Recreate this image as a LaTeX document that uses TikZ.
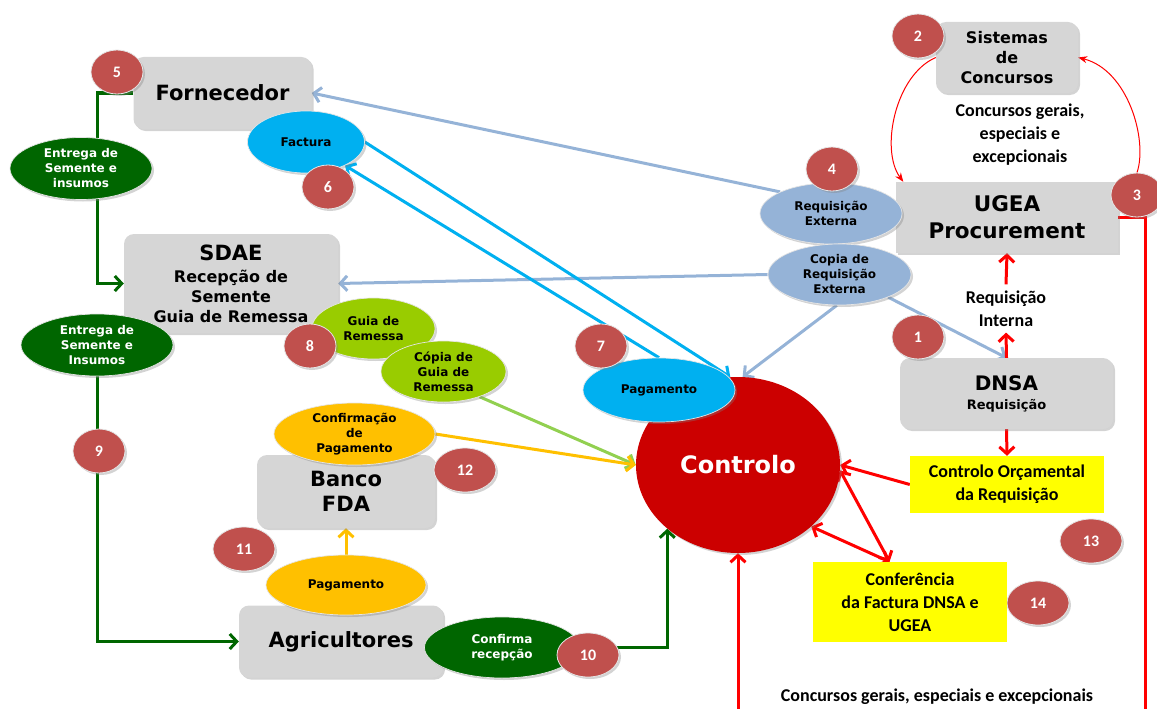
\documentclass[tikz,border=0pt]{standalone}
\usepackage{fontspec}
\setmainfont{DejaVu Sans}
\newfontfamily\calib{Carlito}
\usetikzlibrary{shapes.geometric,arrows.meta,shadows}
\pgfdeclarelayer{bg}
\pgfsetlayers{bg,main}
\definecolor{boxgray}{HTML}{D6D6D6}
\definecolor{badgered}{HTML}{C0504D}
\definecolor{dkgreen}{HTML}{006600}
\definecolor{cyanb}{HTML}{00B0F0}
\definecolor{steelb}{HTML}{95B3D7}
\definecolor{limeg}{HTML}{99CC00}
\definecolor{lightg}{HTML}{92D050}
\definecolor{orangey}{HTML}{FFC000}
\definecolor{ctrlred}{HTML}{CC0000}
\definecolor{brightred}{HTML}{FF0000}
\definecolor{yellowb}{HTML}{FFFF00}
\begin{document}
\begin{tikzpicture}[x=1pt,y=-1pt,
  shad/.style={drop shadow={opacity=0.35,shadow xshift=2pt,shadow yshift=-2pt}},
  graybox/.style={fill=boxgray, rounded corners=10pt, inner sep=0pt, align=center, shad},
  oval/.style={ellipse, inner sep=-9pt, align=center, draw=white!80!gray, line width=0.7pt, font=\bfseries\fontsize{12}{15}\selectfont, shad},
  badge/.style={ellipse, fill=badgered, draw=white!80!gray, line width=0.8pt, minimum width=52pt, minimum height=44pt, inner sep=0pt, text=white, font=\calib\bfseries\fontsize{16}{16}\selectfont, shad},
  wbadge/.style={badge, minimum width=62pt},
  ybox/.style={fill=yellowb, inner sep=0pt, align=center, font=\calib\bfseries\fontsize{18}{23}\selectfont},
  caltext/.style={align=center, font=\calib\bfseries\fontsize{18}{23}\selectfont},
  chev/.tip={Straight Barb[length=7pt,width=15pt]},
  bline/.style={draw=steelb, line width=3pt, -chev},
  cline/.style={draw=cyanb, line width=3pt, -chev},
  gline/.style={draw=dkgreen, line width=3pt, -chev},
  lgline/.style={draw=lightg, line width=3pt, -chev},
  oline/.style={draw=orangey, line width=3pt, -chev},
  rline/.style={draw=brightred, line width=3pt, -chev},
  thinred/.style={draw=brightred, line width=1pt, -{Stealth[length=9pt,width=7pt]}}
]
\useasboundingbox (0,0) rectangle (1157,709);

% boxes
\node[graybox, minimum width=178pt, minimum height=72pt, font=\bfseries\fontsize{21}{24}\selectfont] (forn) at (222.5,93) {Fornecedor};
\node[graybox, minimum width=214pt, minimum height=99pt, font=\bfseries\fontsize{16}{20}\selectfont] (sdae) at (231,283.5) {{\fontsize{21}{23}\selectfont SDAE}\\[2pt]Recepção de\\Semente\\Guia de Remessa};
\node[graybox, minimum width=204pt, minimum height=72pt, font=\bfseries\fontsize{21}{24}\selectfont] (agri) at (341,641.5) {Agricultores};
\node[graybox, minimum width=178pt, minimum height=73pt, font=\bfseries\fontsize{21}{25}\selectfont] (banco) at (346,491.5) {Banco\\FDA};
\node[graybox, minimum width=142pt, minimum height=71pt, font=\bfseries\fontsize{16}{20}\selectfont] (sist) at (1007,57.5) {Sistemas\\de\\Concursos};
\node[graybox, rounded corners=0pt, minimum width=222pt, minimum height=71pt, font=\bfseries\fontsize{21.5}{27}\selectfont] (ugea) at (1007,217.5) {UGEA\\Procurement};
\node[graybox, minimum width=213pt, minimum height=71pt, font=\bfseries\fontsize{13}{16}\selectfont] (dnsa) at (1006.5,393.5) {{\fontsize{20}{21}\selectfont DNSA}\\[3pt]Requisição};

% Controlo
\node[ellipse, fill=ctrlred, minimum width=204pt, minimum height=176pt, inner sep=0pt, text=white, font=\bfseries\fontsize{24}{26}\selectfont, shad] (ctrl) at (738,465) {Controlo};

% ellipses
\node[oval, fill=dkgreen, text=white, minimum width=142pt, minimum height=62pt] (ent1) at (81,168.5) {Entrega de\\Semente e\\insumos};
\node[oval, fill=dkgreen, text=white, minimum width=152pt, minimum height=62pt] (ent2) at (97,345) {Entrega de\\Semente e\\Insumos};
\node[oval, fill=cyanb, minimum width=117pt, minimum height=62pt] (fact) at (306,142) {Factura};
\node[oval, fill=limeg, minimum width=123pt, minimum height=61pt] (guia) at (373.5,328.5) {Guia de\\Remessa};
\node[oval, fill=limeg, minimum width=125pt, minimum height=61pt] (cguia) at (443.5,371.5) {Cópia de\\Guia de\\Remessa};
\node[oval, fill=orangey, minimum width=161pt, minimum height=62pt] (confp) at (354.5,434) {Confirmação\\de\\Pagamento};
\node[oval, fill=orangey, minimum width=160pt, minimum height=60pt] (pagor) at (346,585) {Pagamento};
\node[oval, fill=dkgreen, text=white, minimum width=155pt, minimum height=61pt] (confr) at (502,647.5) {Confirma\\recepção};
\node[oval, fill=cyanb, minimum width=152pt, minimum height=64pt] (pagcy) at (659,390) {Pagamento};
\node[oval, fill=steelb, minimum width=142pt, minimum height=61pt] (reqext) at (831,213.5) {Requisição\\Externa};
\node[oval, fill=steelb, minimum width=143pt, minimum height=61pt] (copreq) at (839.5,274.5) {Copia de\\Requisição\\Externa};

% badges
\node[badge] (b1) at (918,337) {1};
\node[badge] (b2) at (918,36) {2};
\node[badge] (b3) at (1137,195) {3};
\node[badge] (b4) at (832,169) {4};
\node[badge] (b5) at (117,72) {5};
\node[badge] (b6) at (328,187) {6};
\node[badge] (b7) at (601,346) {7};
\node[badge] (b8) at (310,346) {8};
\node[badge] (b9) at (99,451) {9};
\node[wbadge] (b10) at (588,655) {10};
\node[wbadge] (b11) at (244,549) {11};
\node[wbadge] (b12) at (465,470) {12};
\node[wbadge] (b13) at (1091,541) {13};
\node[wbadge] (b14) at (1038,603) {14};

% yellow boxes
\node[ybox, minimum width=194pt, minimum height=57pt] (corc) at (1007,484.5) {Controlo Orçamental\\da Requisição};
\node[ybox, minimum width=194pt, minimum height=80pt] (conf) at (910,602) {Conferência\\da Factura DNSA e\\UGEA};

% free texts
\node[caltext] (ctxt) at (1020,135) {Concursos gerais,\\especiais e\\excepcionais};
\node[caltext, inner sep=6pt] (reqint) at (1006,308.5) {Requisição\\Interna};
\node[caltext] (btxt) at (937,697) {Concursos gerais, especiais e excepcionais};

\coordinate (gx) at (97,0);
\coordinate (botC) at (738,712);
\coordinate (botR) at (1145,712);

\begin{pgfonlayer}{bg}
\draw[bline] (reqext.157) -- (forn.east);
\draw[bline] (copreq.west) -- (sdae.east);
\draw[bline] (copreq.265) -- (ctrl.87);
\draw[bline] (copreq.-25) -- (dnsa.north);
\draw[cline] (fact.east) -- (ctrl.95);
\draw[cline] (pagcy.north) -- (fact.-31);
\draw[gline] (forn.west) -| (gx |- sdae.west) -- (sdae.west);
\draw[gline] (ent2.south) |- (agri.west);
\draw[gline] (confr.east) -| (ctrl.222);
\draw[lgline] (cguia.-35) -- (ctrl.west);
\draw[oline] (confp.east) -- (ctrl.west);
\draw[oline] (pagor.north) -- (banco.south);
\draw[rline] (botC) -- (ctrl.south);
\draw[draw=brightred, line width=3pt] (ugea.east) -| (botR);
\draw[rline] (dnsa.north) -- (reqint.south);
\draw[rline] (reqint.north) -- (ugea.south);
\draw[rline] (dnsa.south) -- (corc.north);
\draw[rline] (corc.west) -- (ctrl.east);
\draw[rline, chev-chev] (conf.117) -- (ctrl.-3);
\draw[rline, chev-chev] (conf.117) -- (ctrl.-40);
\draw[thinred] (sist.west) .. controls (895,75) and (880,150) .. (ugea.161);
\draw[thinred] (b3.north) .. controls (1148,140) and (1128,70) .. (sist.east);
\end{pgfonlayer}
\end{tikzpicture}
\end{document}
